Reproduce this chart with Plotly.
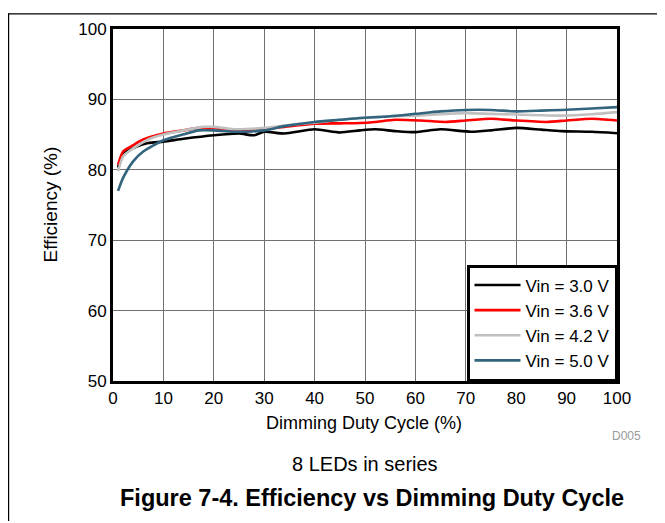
import plotly.graph_objects as go

# Dimming duty cycle (%) and efficiency (%) for each input voltage
x_30 = [1, 2, 4, 7, 10, 14, 20, 25, 28, 30, 34, 40, 45, 49, 52, 56, 60, 65, 71, 75, 80, 85, 89, 95, 100]
y_30 = [80.3, 82.4, 83.1, 83.8, 84.0, 84.4, 84.9, 85.15, 84.9, 85.4, 85.15, 85.75, 85.3, 85.6, 85.75, 85.5, 85.35, 85.75, 85.4, 85.6, 85.95, 85.7, 85.5, 85.4, 85.2]

x_36 = [1, 2, 4, 6, 10, 14, 17, 20, 24, 30, 34, 40, 45, 49, 52, 56, 61, 66, 70, 75, 80, 86, 90, 95, 100]
y_36 = [80.7, 82.6, 83.5, 84.3, 85.15, 85.6, 85.95, 85.95, 85.6, 85.85, 86.1, 86.55, 86.6, 86.65, 86.8, 87.1, 87.0, 86.8, 87.0, 87.25, 87.0, 86.8, 87.0, 87.25, 87.0]

x_42 = [1, 2, 4, 7, 10, 14, 18, 20, 24, 30, 34, 40, 45, 49, 55, 60, 65, 70, 75, 80, 89, 95, 100]
y_42 = [79.8, 81.9, 83.05, 84.3, 85.0, 85.6, 86.1, 86.1, 85.75, 85.95, 86.3, 86.7, 87.1, 87.35, 87.6, 87.7, 87.9, 88.05, 87.95, 87.85, 87.7, 87.9, 88.2]

x_50 = [1, 2, 4, 6, 10, 14, 17, 20, 24, 30, 34, 40, 45, 49, 55, 60, 65, 70, 75, 80, 85, 89, 95, 100]
y_50 = [77.0, 78.85, 81.2, 82.6, 84.2, 85.05, 85.6, 85.6, 85.4, 85.6, 86.2, 86.8, 87.1, 87.35, 87.6, 87.95, 88.3, 88.5, 88.5, 88.3, 88.4, 88.5, 88.7, 88.9]

series_names = ["Vin = 3.0 V", "Vin = 3.6 V", "Vin = 4.2 V", "Vin = 5.0 V"]
series_colors = ["#000000", "#ff0000", "#c0c0c0", "#32647e"]

x_ticks = [0, 10, 20, 30, 40, 50, 60, 70, 80, 90, 100]
y_ticks = [50, 60, 70, 80, 90, 100]

FONT = "Liberation Sans, Arial, sans-serif"

fig = go.Figure()
for xs, ys, name, color in zip([x_30, x_36, x_42, x_50], [y_30, y_36, y_42, y_50],
                               series_names, series_colors):
    fig.add_trace(go.Scatter(x=xs, y=ys, mode="lines", name=name,
                             line=dict(color=color, width=2.6, shape="spline", smoothing=0.6)))

# page offset (default body margin) and plot-area geometry in window pixels
OFF = 8
L, R, T, B = 113, 617, 24, 381
W, H = 665, 523
def px(xp):
    return (xp - L) / (R - L)
def py(yp):
    return (B - yp) / (B - T)

fig.update_layout(
    width=W - OFF, height=H - OFF,
    margin=dict(l=L - OFF, r=W - R, t=T - OFF, b=H - B, pad=0),
    paper_bgcolor="white", plot_bgcolor="white",
    font=dict(family=FONT, size=17, color="black"),
    showlegend=True,
    legend=dict(x=1.0, y=0.0, xanchor="right", yanchor="bottom",
                bgcolor="white", bordercolor="black", borderwidth=2.5,
                font=dict(family=FONT, size=17, color="black"),
                itemwidth=46, tracegroupgap=0),
    xaxis=dict(range=[0, 100], tickvals=x_ticks, ticks="", showgrid=True,
               gridcolor="#707070", gridwidth=1, showline=True, linecolor="black",
               linewidth=3, mirror=True, zeroline=False,
               tickfont=dict(family=FONT, size=17)),
    yaxis=dict(range=[50, 100], tickvals=y_ticks, ticks="", showgrid=True,
               gridcolor="#707070", gridwidth=1, showline=True, linecolor="black",
               linewidth=3, mirror=True, zeroline=False,
               tickfont=dict(family=FONT, size=17)),
    shapes=[
        dict(type="line", xref="paper", yref="paper", x0=px(8), x1=px(665), y0=py(8.6), y1=py(8.6),
             line=dict(color="black", width=1.2)),
        dict(type="line", xref="paper", yref="paper", x0=px(8.6), x1=px(8.6), y0=py(8), y1=py(523),
             line=dict(color="black", width=1.2)),
    ],
    annotations=[
        dict(text="Dimming Duty Cycle (%)", xref="paper", yref="paper", x=px(364), y=py(424),
             showarrow=False, xanchor="center", yanchor="middle", font=dict(size=18)),
        dict(text="Efficiency (%)", xref="paper", yref="paper", x=px(51), y=py(202),
             showarrow=False, xanchor="center", yanchor="middle", textangle=-90, font=dict(size=19)),
        dict(text="D005", xref="paper", yref="paper", x=px(643), y=py(437),
             showarrow=False, xanchor="right", yanchor="middle", font=dict(size=12, color="#9a9a9a")),
        dict(text="8 LEDs in series", xref="paper", yref="paper", x=px(365), y=py(465),
             showarrow=False, xanchor="center", yanchor="middle", font=dict(size=20)),
        dict(text="<b>Figure 7-4. Efficiency vs Dimming Duty Cycle</b>", xref="paper", yref="paper",
             x=px(372), y=py(500), showarrow=False, xanchor="center", yanchor="middle",
             font=dict(size=23.5)),
    ],
)

fig.write_html("out.html")
